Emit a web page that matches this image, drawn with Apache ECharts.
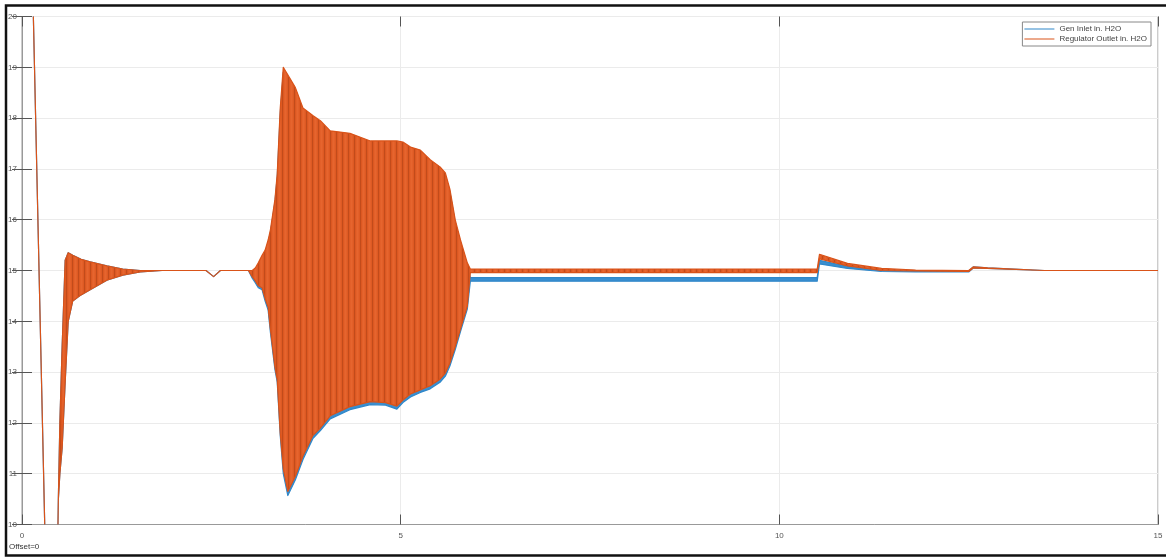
<!DOCTYPE html>
<html>
<head>
<meta charset="utf-8">
<script src="https://cdn.jsdelivr.net/npm/echarts@6/dist/echarts.min.js"></script>
<style>
  html, body { margin: 0; padding: 0; background: #fff; }
  #chart { width: 1166px; height: 557px; }
</style>
</head>
<body>
<div id="chart"></div>
<script>
// time base (s) shared by both traces; hi/lo = envelope of the trace at that time
const times = [0, 0.15, 0.30, 0.31, 0.46, 0.48, 0.50, 0.53, 0.57, 0.61, 0.67, 0.78, 0.90, 1.12, 1.33, 1.56, 1.85,
  2.43, 2.53, 2.62, 2.99, 3.04, 3.08, 3.12, 3.17, 3.21, 3.25, 3.28, 3.34, 3.37, 3.41, 3.45, 3.51, 3.61, 3.71,
  3.84, 3.94, 4.07, 4.33, 4.60, 4.80, 4.95, 5.03, 5.13, 5.26, 5.39, 5.52, 5.59, 5.65, 5.72, 5.79, 5.88, 5.92,
  10.50, 10.53, 10.90, 11.35, 11.80, 12.50, 12.56, 12.75, 13.50, 15.0]

const regHigh = [24, 20, 10, 8.5, 8.5, 10.5, 12.0, 13.5, 15.2, 15.35, 15.3, 15.22, 15.17, 15.09, 15.03, 15.0, 15.0,
  15.0, 14.88, 15.0, 15.0, 15.0, 15.05, 15.15, 15.3, 15.4, 15.6, 15.8, 16.4, 16.9, 18.2, 19.0, 18.85, 18.6, 18.2,
  18.05, 17.95, 17.75, 17.7, 17.55, 17.55, 17.55, 17.53, 17.43, 17.37, 17.18, 17.04, 16.92, 16.6, 16.0, 15.6, 15.15, 15.03,
  15.03, 15.32, 15.14, 15.04, 15.01, 15.0, 15.07, 15.05, 15.0, 15.0]
const regLow = [24, 20, 10, 8.5, 8.5, 10.5, 11.0, 11.5, 12.8, 14.0, 14.4, 14.52, 14.62, 14.81, 14.91, 14.97, 15.0,
  15.0, 14.88, 15.0, 15.0, 14.88, 14.8, 14.7, 14.66, 14.45, 14.28, 13.85, 13.1, 12.85, 11.8, 11.1, 10.65, 10.95, 11.35,
  11.75, 11.9, 12.14, 12.32, 12.42, 12.4, 12.33, 12.45, 12.57, 12.65, 12.73, 12.86, 12.98, 13.18, 13.5, 13.85, 14.3, 14.96,
  14.96, 15.23, 15.09, 15.0, 14.99, 14.98, 15.05, 15.04, 15.0, 15.0]

const genHigh = [24, 20, 10, 8.5, 8.5, 10.5, 12.0, 13.5, 15.2, 15.35, 15.3, 15.22, 15.17, 15.09, 15.03, 15.0, 15.0,
  15.0, 14.88, 15.0, 15.0, 14.98, 15.0, 15.1, 15.25, 15.35, 15.55, 15.75, 16.35, 16.85, 18.1, 18.9, 18.8, 18.55, 18.15,
  18.0, 17.9, 17.7, 17.65, 17.5, 17.5, 17.5, 17.48, 17.38, 17.32, 17.13, 16.99, 16.87, 16.55, 15.95, 15.55, 15.1, 14.86,
  14.86, 15.2, 15.08, 15.01, 15.0, 14.99, 15.07, 15.05, 15.0, 15.0]
const genLow = [24, 20, 10, 8.5, 8.5, 10.5, 11.0, 11.5, 12.8, 14.0, 14.4, 14.52, 14.62, 14.81, 14.91, 14.97, 15.0,
  15.0, 14.88, 15.0, 15.0, 14.85, 14.76, 14.66, 14.62, 14.4, 14.22, 13.78, 13.05, 12.8, 11.75, 11.0, 10.57, 10.88, 11.28,
  11.69, 11.85, 12.08, 12.26, 12.36, 12.35, 12.27, 12.4, 12.51, 12.6, 12.67, 12.8, 12.92, 13.12, 13.44, 13.8, 14.24, 14.79,
  14.79, 15.13, 15.04, 14.98, 14.97, 14.97, 15.05, 15.04, 15.0, 15.0]

const names = ['Gen Inlet in. H2O', 'Regulator Outlet in. H2O']
const font = 'Liberation Sans, Arial, sans-serif'

const myChart = echarts.init(document.getElementById('chart'))

// striped fill to mimic the densely packed oscillation strokes
function stripes(cols) {
    const c = document.createElement('canvas')
    c.width = cols.length
    c.height = 2
    const ctx = c.getContext('2d')
    cols.forEach((col, i) => { ctx.fillStyle = col; ctx.fillRect(i, 0, 1, 2) })
    return { image: c, repeat: 'repeat' }
}

function band(name, stroke, fill, hi, lo) {
    return {
        name: name,
        type: 'custom',
        clip: true,
        itemStyle: { color: stroke },
        data: times.map((t, i) => [t, lo[i], hi[i]]),
        encode: { x: 0, y: [1, 2] },
        renderItem: function (params, api) {
            if (params.dataIndex !== 0) return null
            const pts = []
            for (let i = 0; i < times.length; i++) pts.push(api.coord([times[i], hi[i]]))
            for (let i = times.length - 1; i >= 0; i--) pts.push(api.coord([times[i], lo[i]]))
            return {
                type: 'polygon',
                shape: { points: pts },
                style: { fill: fill, stroke: stroke, lineWidth: 1.2, lineJoin: 'round' }
            }
        }
    }
}

const tickInside = { show: true, inside: true, length: 10, lineStyle: { color: '#555' } }

myChart.setOption({
    animation: false,
    backgroundColor: '#fff',
    grid: { left: 22, right: 8, top: 16.5, bottom: 32.5, show: true, borderColor: '#999', borderWidth: 1 },
    legend: {
        data: names,
        orient: 'vertical',
        right: 15,
        top: 22,
        icon: 'rect',
        itemWidth: 30,
        itemHeight: 1,
        itemGap: 2,
        padding: [3, 4, 3, 2],
        borderColor: '#888',
        borderWidth: 1,
        backgroundColor: '#fff',
        textStyle: { fontSize: 8, color: '#444', fontFamily: font }
    },
    xAxis: [{
        type: 'value', min: 0, max: 15, interval: 5,
        axisLine: { show: true, lineStyle: { color: '#999' } },
        axisTick: tickInside,
        axisLabel: { fontSize: 8, color: '#555', margin: 7, fontFamily: font },
        splitLine: { show: true, lineStyle: { color: '#ebebeb' } }
    }, {
        type: 'value', min: 0, max: 15, interval: 5, position: 'top',
        axisLine: { show: false }, axisTick: tickInside, axisLabel: { show: false }, splitLine: { show: false }
    }],
    yAxis: [{
        type: 'value', min: 10, max: 20, interval: 1,
        axisLine: { show: true, lineStyle: { color: '#999' } },
        axisTick: tickInside,
        axisLabel: { fontSize: 8, color: '#555', margin: 5, fontFamily: font },
        splitLine: { show: true, lineStyle: { color: '#ebebeb' } }
    }, {
        type: 'value', min: 10, max: 20, interval: 1, position: 'right',
        axisLine: { show: false }, axisTick: tickInside, axisLabel: { show: false }, splitLine: { show: false }
    }],
    graphic: [{
        type: 'rect',
        shape: { x: 6, y: 5.5, width: 1170, height: 550 },
        style: { fill: 'none', stroke: '#111', lineWidth: 2.5 },
        silent: true
    }, {
        type: 'text', left: 9, top: 543,
        style: { text: 'Offset=0', fontSize: 8, fill: '#333', fontFamily: font }
    }],
    series: [
        band(names[0], '#2f87c9', '#3a8fd0', genHigh, genLow),
        band(names[1], '#d95319', stripes(['#c24b1b', '#dc5821', '#e3602a', '#e6652e', '#e3602a', '#de5a23']), regHigh, regLow)
    ]
})
</script>
</body>
</html>
